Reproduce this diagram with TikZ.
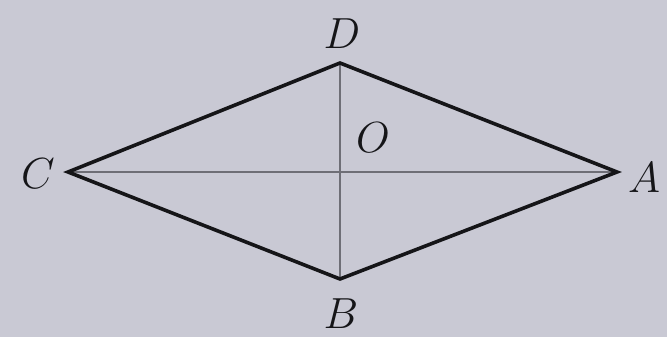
\documentclass[tikz,border=0pt]{standalone}
\definecolor{bg}{HTML}{C9C9D4}
\definecolor{diag}{HTML}{6E6E76}
\definecolor{ink}{HTML}{151518}
\begin{document}
\begin{tikzpicture}[x=1pt,y=-1pt,
  side/.style={draw=ink,line width=3.6pt,line join=miter},
  diagline/.style={draw=diag,line width=2.8pt},
  lab/.style={text=ink,font=\Huge,inner sep=0pt,scale=1.75}]
\fill[bg] (0,0) rectangle (667,337);
\useasboundingbox (0,0) rectangle (667,337);
\coordinate (C) at (68,172);
\coordinate (D) at (340,63);
\coordinate (A) at (617,172);
\coordinate (B) at (340,279);
\coordinate (O) at (340,172);
\draw[diagline] (C) -- (A);
\draw[diagline] (D) -- (B);
\draw[side] (C) -- (D) -- (A) -- (B) -- cycle;
\node[lab] (lc) at (38,174) {$C$};
\node[lab] (ld) at (342,34) {$D$};
\node[lab] (lo) at (373,138) {$O$};
\node[lab] (la) at (644,178) {$A$};
\node[lab] (lb) at (341,314) {$B$};
\end{tikzpicture}
\end{document}
